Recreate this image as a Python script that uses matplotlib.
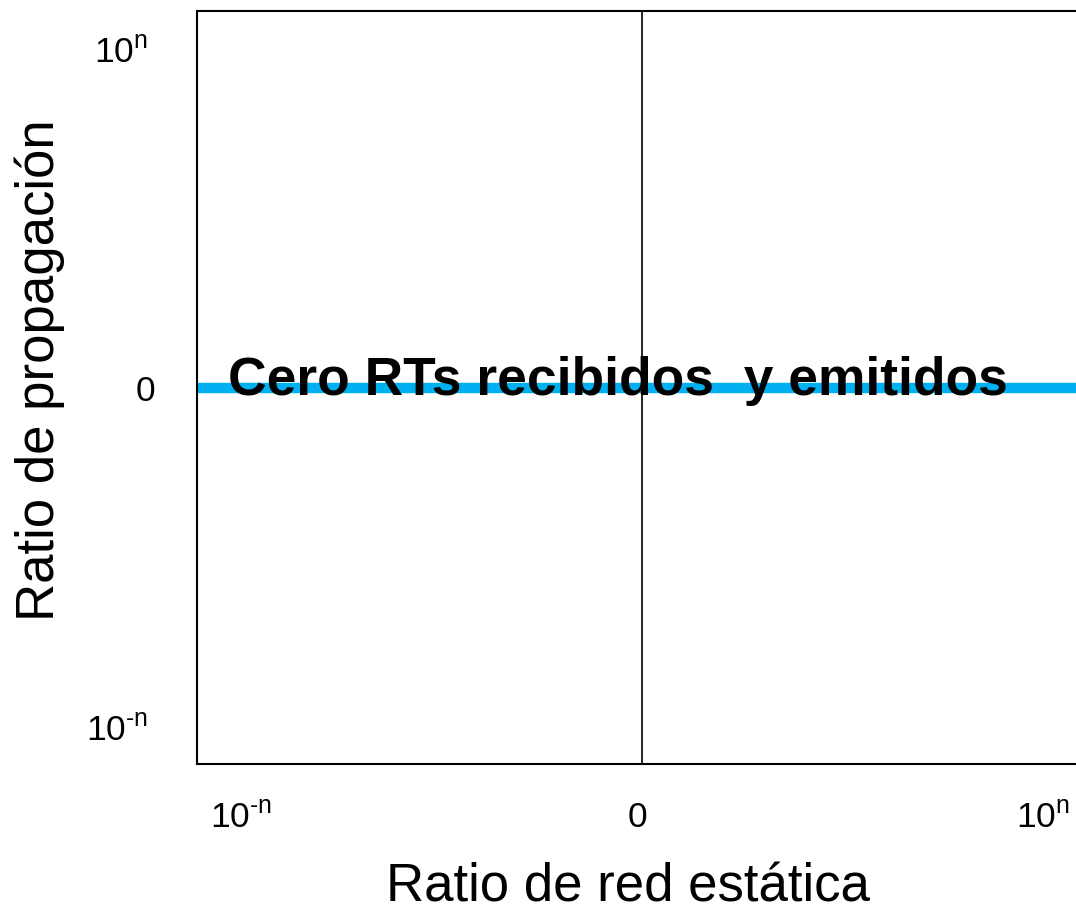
import matplotlib
matplotlib.use('Agg')
import matplotlib.pyplot as plt
from matplotlib.transforms import ScaledTranslation

plt.rcParams['font.family'] = ['Liberation Sans', 'DejaVu Sans']
plt.rcParams['mathtext.fontset'] = 'custom'
plt.rcParams['mathtext.rm'] = 'Liberation Sans'
plt.rcParams['mathtext.it'] = 'Liberation Sans'

# axis ticks and labels
x_ticks = [-0.9, -0.01, 0.9]
x_labels = [r'$\mathregular{10^{\text{-}n}}$', '0', r'$\mathregular{10^{n}}$']
y_ticks = [0.9, 0.0, -0.9]
y_labels = [r'$\mathregular{10^{n}}$', '0', r'$\mathregular{10^{\text{-}n}}$']

# zero line (propagation ratio = 0)
line_x = [-1.0, 1.0]
line_y = [0.0, 0.0]
note = 'Cero RTs recibidos  y emitidos'

fig = plt.figure(figsize=(10.76, 9.12), dpi=100, facecolor='white')
ax = fig.add_axes([197 / 1076, 1 - 765 / 912, 890 / 1076, 753 / 912])
ax.set_xlim(-1, 1)
ax.set_ylim(-1, 1)

ax.plot(line_x, line_y, color='#00B0F0', linewidth=7.5, solid_capstyle='butt', zorder=2)
ax.axvline(0, color='black', linewidth=1.2, zorder=3)

ax.text(-0.93, 0.02, note, fontsize=38.4, fontweight='bold', ha='left', va='center', zorder=4)

ax.set_xticks(x_ticks)
ax.set_xticklabels(x_labels, fontsize=25.5)
ax.set_yticks(y_ticks)
ax.set_yticklabels(y_labels, fontsize=25.5)
ax.tick_params(axis='x', length=0, pad=26)
ax.tick_params(axis='y', length=0, pad=30)

# the power labels sit a little further left than the "0"
for lab in ax.get_yticklabels():
    if lab.get_text() != '0':
        lab.set_transform(lab.get_transform() + ScaledTranslation(-0.07, 0, fig.dpi_scale_trans))

fig.text(628 / 1076, 1 - 888 / 912, 'Ratio de red estática', fontsize=38,
         ha='center', va='center')
fig.text(40 / 1076, 1 - 370 / 912, 'Ratio de propagación', fontsize=38,
         ha='center', va='center', rotation=90)

for side in ['left', 'top', 'bottom']:
    ax.spines[side].set_linewidth(1.5)
ax.spines['right'].set_visible(False)

fig.savefig('out.png', dpi=100, facecolor='white')
